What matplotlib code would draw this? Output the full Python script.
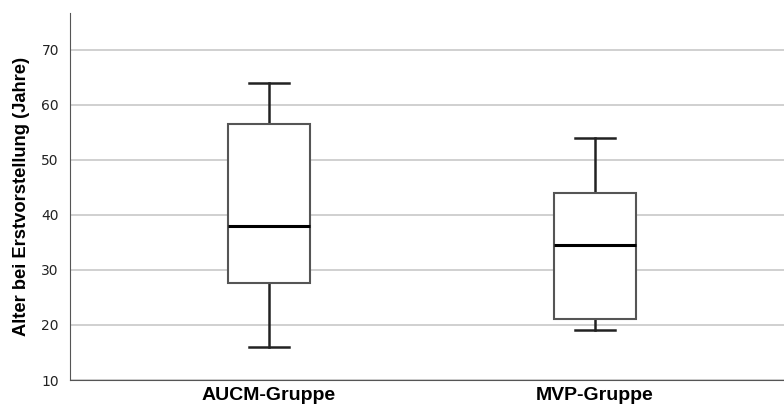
import matplotlib.pyplot as plt

# box statistics
groups = ["AUCM-Gruppe", "MVP-Gruppe"]
whisker_low = [16, 19]
q1 = [27.6, 21]
median = [38, 34.5]
q3 = [56.5, 44]
whisker_high = [64, 54]

stats = []
for i, g in enumerate(groups):
    stats.append({"label": g, "whislo": whisker_low[i], "q1": q1[i], "med": median[i],
                  "q3": q3[i], "whishi": whisker_high[i], "fliers": []})

fig = plt.figure(figsize=(7.84, 4.09), dpi=100)
ax = fig.add_axes([0.0893, 0.0709, 0.9107, 0.897])

ax.bxp(stats, positions=[1, 2], widths=0.25, showfliers=False, patch_artist=True,
       boxprops=dict(facecolor="white", edgecolor="#555555", linewidth=1.5, zorder=4),
       medianprops=dict(color="black", linewidth=2.2, zorder=5),
       whiskerprops=dict(color="#222222", linewidth=1.8, zorder=3),
       capprops=dict(color="#222222", linewidth=1.8, zorder=3),
       capwidths=0.123)

ax.set_xlim(0.39, 2.58)
ax.set_ylim(10, 76.7)
ax.set_yticks([10, 20, 30, 40, 50, 60, 70])
ax.yaxis.grid(True, color="#c8c8c8", linewidth=1.2, zorder=0)
ax.set_axisbelow(True)

for s in ["top", "right"]:
    ax.spines[s].set_visible(False)
ax.spines["left"].set_color("#555555")
ax.spines["bottom"].set_color("#555555")

ax.tick_params(axis="y", length=0, pad=8, labelsize=10, labelcolor="#222222")
ax.tick_params(axis="x", length=0, pad=5)
ax.set_xticklabels(groups, fontsize=14, fontweight="bold", family="Liberation Sans")
ax.set_ylabel("Alter bei Erstvorstellung (Jahre)", fontsize=13.2, fontweight="bold",
              family="Liberation Sans", labelpad=8)

fig.savefig("out.png", dpi=100)
